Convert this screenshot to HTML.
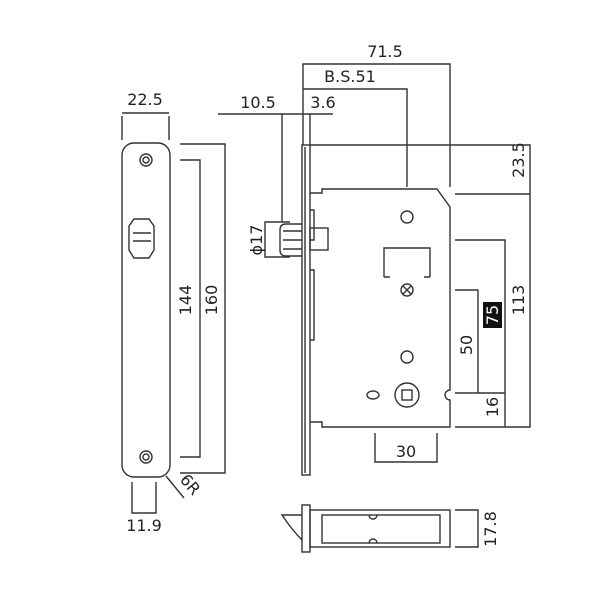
<!DOCTYPE html>
<html><head><style>body{margin:0;background:#fff}svg{display:block}text{font-family:"DejaVu Sans","Liberation Sans",sans-serif;font-size:16px;fill:#222}</style></head><body>
<svg width="600" height="600" viewBox="0 0 600 600" xmlns="http://www.w3.org/2000/svg">
<g fill="none" stroke="#333" stroke-width="1.4">
<rect x="122" y="143" width="48" height="334" rx="12"/>
<circle cx="146" cy="160" r="6"/><circle cx="146" cy="160" r="3"/>
<circle cx="146" cy="457" r="6"/><circle cx="146" cy="457" r="3"/>
<path d="M134 219 H149 L154 226 V250 L149 258 H134 L129 250 V226 Z"/>
<line x1="133" y1="233" x2="151" y2="233"/><line x1="133" y1="241" x2="151" y2="241"/>
<path d="M122 140 V116 M169 140 V116 M122 113 H169"/>
<path d="M180 160 H200 V457 H180 M180 144 H225 V473 H180"/>
<path d="M132 482 V513 H156 V482"/>
<line x1="166" y1="476" x2="184" y2="498"/>
<rect x="302" y="145" width="8" height="330"/>
<line x1="305" y1="147" x2="305" y2="473"/>
<path d="M310 193 H322 V189 H437 L450 207 V390 A5 5 0 0 0 450 400 V427 H322 V422 H310"/>
<path d="M310 210 H314 V240 H310 M310 270 H314 V340 H310"/>
<circle cx="407" cy="217" r="6"/>
<path d="M384 277 V248 H430 V277 M384 277 H390 M424 277 H430"/>
<circle cx="407" cy="290" r="6"/><path d="M403 286 L411 294 M411 286 L403 294"/>
<circle cx="407" cy="357" r="6"/>
<circle cx="407" cy="395" r="12"/><rect x="402" y="390" width="10" height="10"/>
<ellipse cx="373" cy="395" rx="6" ry="4"/>
<path d="M302 224 H286 Q280 224 280 230 V250 Q280 256 286 256 H302"/>
<path d="M283 231 H302 M283 240 H302 M283 249 H302"/>
<rect x="310" y="228" width="18" height="22"/>
<path d="M290 222 H265 V257 H290"/>
<path d="M303 145 V64 H450 V187 M303 89 H407 V187 M218 114 H333 M282 114 V222 M310 114 V145"/>
<path d="M310 145 H530 V427 H455 M455 194 H530 M455 240 H505 V427 M455 290 H478 V393 H455 M478 393 H505"/>
<path d="M375 433 V462 H437 V433"/>
<rect x="302" y="505" width="8" height="47"/>
<rect x="310" y="510" width="140" height="37"/>
<rect x="322" y="515" width="118" height="28"/>
<path d="M302 515 H282 Q292 530 302 540"/>
<path d="M369 515 A4 4 0 0 0 377 515 M369 543 A4 4 0 0 1 377 543"/>
<path d="M455 510 H478 V547 H455"/>
</g>
<rect x="483" y="302" width="19" height="26" fill="#111"/>
<text x="145" y="105" text-anchor="middle">22.5</text>
<text x="144" y="531" text-anchor="middle">11.9</text>
<text x="385" y="57" text-anchor="middle">71.5</text>
<text x="350" y="82" text-anchor="middle">B.S.51</text>
<text x="258" y="108" text-anchor="middle">10.5</text>
<text x="323" y="108" text-anchor="middle">3.6</text>
<text x="406" y="457" text-anchor="middle">30</text>
<text transform="translate(191,300) rotate(-90)" text-anchor="middle">144</text>
<text transform="translate(217,300) rotate(-90)" text-anchor="middle">160</text>
<text transform="translate(262,240) rotate(-90)" text-anchor="middle">ϕ17</text>
<text transform="translate(186,488) rotate(50)" text-anchor="middle" font-size="13">6R</text>
<text transform="translate(524,160) rotate(-90)" text-anchor="middle">23.5</text>
<text transform="translate(524,300) rotate(-90)" text-anchor="middle">113</text>
<text transform="translate(472,345) rotate(-90)" text-anchor="middle">50</text>
<text transform="translate(498,407) rotate(-90)" text-anchor="middle">16</text>
<text transform="translate(498,315) rotate(-90)" text-anchor="middle" style="fill:#fff">75</text>
<text transform="translate(496,529) rotate(-90)" text-anchor="middle">17.8</text>
</svg>
</body></html>
